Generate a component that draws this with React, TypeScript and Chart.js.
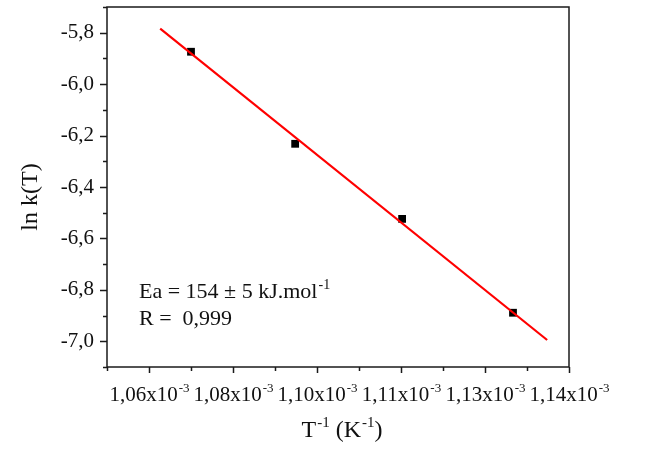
import React, { useEffect, useRef } from "react";
import { Chart, registerables } from "chart.js";

Chart.register(...registerables);

// Data (x in K^-1, y = ln k)
const invT = [1.0725e-3, 1.0911e-3, 1.1102e-3, 1.1300e-3];
const lnK = [-5.874, -6.232, -6.524, -6.889];
// Linear fit endpoints
const fitX = [1.0670e-3, 1.1361e-3];
const fitY = [-5.784, -6.995];

// Axes
const xMin = 1.0575e-3;
const xMax = 1.14e-3;
const xTickValues = [1.065e-3, 1.08e-3, 1.095e-3, 1.11e-3, 1.125e-3, 1.14e-3];
const xTickLabels = ["1,06", "1,08", "1,10", "1,11", "1,13", "1,14"];
const xMinorValues = [1.0575e-3, 1.0725e-3, 1.0875e-3, 1.1025e-3, 1.1175e-3, 1.1325e-3];
const yMin = -7.1;
const yMax = -5.7;
const yTickValues = [-7.0, -6.8, -6.6, -6.4, -6.2, -6.0, -5.8];
const yMinorValues = [-7.1, -6.9, -6.7, -6.5, -6.3, -6.1, -5.9, -5.7];

const FONT = "'Liberation Serif', 'Times New Roman', serif";

function drawSup(ctx: CanvasRenderingContext2D, base: string, sup: string, x: number, y: number, size: number, align: "center" | "left") {
  ctx.font = `${size}px ${FONT}`;
  const bw = ctx.measureText(base).width;
  const ss = Math.round(size * 0.62);
  ctx.font = `${ss}px ${FONT}`;
  const sw = ctx.measureText(sup).width;
  const sx = align === "center" ? x - (bw + sw) / 2 : x;
  ctx.textAlign = "left";
  ctx.textBaseline = "alphabetic";
  ctx.font = `${size}px ${FONT}`;
  ctx.fillText(base, sx, y);
  ctx.font = `${ss}px ${FONT}`;
  ctx.fillText(sup, sx + bw + 1, y - size * 0.42);
  return bw + sw + 1;
}

const framePlugin = {
  id: "frame",
  afterDraw(chart: any) {
    const { ctx, chartArea: a, scales } = chart;
    const xs = scales.x;
    const ys = scales.y;
    ctx.save();
    ctx.strokeStyle = "#1a1a1a";
    ctx.lineWidth = 1.5;
    ctx.strokeRect(a.left, a.top, a.right - a.left, a.bottom - a.top);
    ctx.beginPath();
    yTickValues.forEach((v) => {
      const p = Math.round(ys.getPixelForValue(v)) + 0.5;
      ctx.moveTo(a.left, p);
      ctx.lineTo(a.left - 7, p);
    });
    yMinorValues.forEach((v) => {
      const p = Math.round(ys.getPixelForValue(v)) + 0.5;
      ctx.moveTo(a.left, p);
      ctx.lineTo(a.left - 4, p);
    });
    xTickValues.forEach((v) => {
      const p = Math.round(xs.getPixelForValue(v)) + 0.5;
      ctx.moveTo(p, a.bottom);
      ctx.lineTo(p, a.bottom + 6);
    });
    xMinorValues.forEach((v) => {
      const p = Math.round(xs.getPixelForValue(v)) + 0.5;
      ctx.moveTo(p, a.bottom);
      ctx.lineTo(p, a.bottom + 4);
    });
    ctx.stroke();

    ctx.fillStyle = "#111";
    xTickValues.forEach((v, i) => {
      const p = xs.getPixelForValue(v);
      drawSup(ctx, xTickLabels[i] + "x10", "-3", p, a.bottom + 34, 21, "center");
    });

    // Axis titles
    ctx.font = `24px ${FONT}`;
    const w1 = ctx.measureText("T").width;
    const w3 = ctx.measureText(" (K").width;
    const w5 = ctx.measureText(")").width;
    ctx.font = `15px ${FONT}`;
    const w2 = ctx.measureText("-1").width;
    const total = w1 + w2 * 2 + w3 + w5 + 2;
    let tx = (a.left + a.right) / 2 + 4 - total / 2;
    const ty = 437;
    tx += drawSup(ctx, "T", "-1", tx, ty, 24, "left");
    tx += drawSup(ctx, " (K", "-1", tx, ty, 24, "left");
    ctx.font = `24px ${FONT}`;
    ctx.fillText(")", tx, ty);

    ctx.save();
    ctx.translate(37, 197);
    ctx.rotate(-Math.PI / 2);
    ctx.font = `24px ${FONT}`;
    ctx.textAlign = "center";
    ctx.textBaseline = "alphabetic";
    ctx.fillText("ln k(T)", 0, 0);
    ctx.restore();

    // Annotation
    drawSup(ctx, "Ea = 154 \u00b1 5 kJ.mol", "-1", a.left + 32, 298, 22, "left");
    ctx.font = `22px ${FONT}`;
    ctx.textAlign = "left";
    ctx.fillText("R =  0,999", a.left + 32, 325);
    ctx.restore();
  },
};

export default function App() {
  const ref = useRef<HTMLCanvasElement>(null);
  useEffect(() => {
    if (!ref.current) return;
    const chart = new Chart(ref.current, {
      type: "scatter",
      data: {
        datasets: [
          {
            type: "line",
            data: fitX.map((x, i) => ({ x, y: fitY[i] })),
            borderColor: "#ff0000",
            borderWidth: 2.2,
            pointRadius: 0,
            fill: false,
          },
          {
            data: invT.map((x, i) => ({ x, y: lnK[i] })),
            pointStyle: "rect",
            pointRadius: 5.5,
            backgroundColor: "#000",
            borderColor: "#000",
            borderWidth: 0,
          },
        ],
      },
      options: {
        responsive: false,
        animation: false,
        layout: { padding: { top: 7, right: 83, left: 0, bottom: 0 } },
        plugins: { legend: { display: false }, tooltip: { enabled: false } },
        scales: {
          x: {
            type: "linear",
            min: xMin,
            max: xMax,
            grid: { display: false, drawTicks: false },
            border: { display: false },
            ticks: { display: false },
            afterBuildTicks: (s: any) => {
              s.ticks = xTickValues.map((v) => ({ value: v }));
            },
            afterFit: (s: any) => {
              s.height = 82;
              s.paddingLeft = 0;
              s.paddingRight = 0;
            },
          },
          y: {
            type: "linear",
            min: yMin,
            max: yMax,
            grid: { display: false, drawTicks: false },
            border: { display: false },
            afterBuildTicks: (s: any) => {
              s.ticks = yTickValues.map((v) => ({ value: v }));
            },
            ticks: {
              padding: 13,
              color: "#111",
              font: { family: FONT, size: 21 },
              callback: (v: any) => Number(v).toFixed(1).replace(".", ","),
            },
            afterFit: (s: any) => {
              s.width = 107;
              s.paddingTop = 0;
              s.paddingBottom = 0;
            },
          },
        },
      },
      plugins: [framePlugin],
    });
    return () => chart.destroy();
  }, []);
  return (
    <div style={{ position: "fixed", left: 0, top: 0, width: 652, height: 449, background: "#fff" }}>
      <canvas ref={ref} width={652} height={449} />
    </div>
  );
}
